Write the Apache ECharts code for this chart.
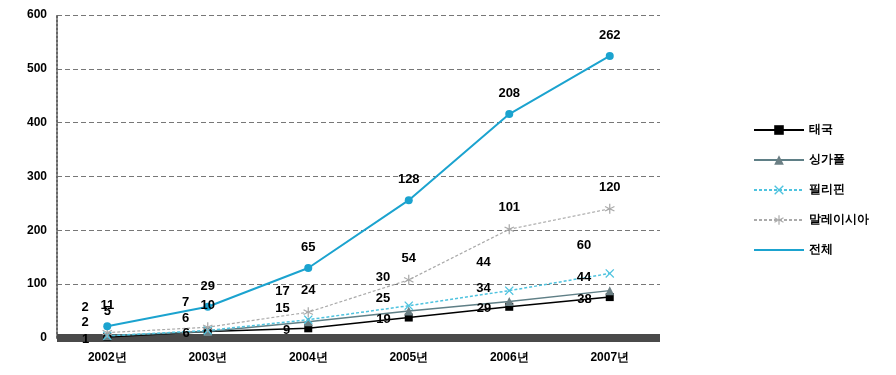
<!DOCTYPE html>
<html>
<head>
<meta charset="utf-8">
<script src="https://cdn.jsdelivr.net/npm/echarts@6/dist/echarts.min.js"></script>
<style>html,body{margin:0;padding:0;background:#fff}#c{width:896px;height:375px}</style>
</head>
<body>
<div id="c"></div>
<script>
const categories = ['2002년', '2003년', '2004년', '2005년', '2006년', '2007년'];
const thailand = [1, 6, 9, 19, 29, 38];
const singapore = [2, 6, 15, 25, 34, 44];
const philippines = [2, 7, 17, 30, 44, 60];
const malaysia = [5, 10, 24, 54, 101, 120];
const total = [11, 29, 65, 128, 208, 262];
const yTickLabels = ['0', '100', '200', '300', '400', '500', '600'];

const font = '"Liberation Sans", Arial, sans-serif';
const chart = echarts.init(document.getElementById('c'));
const X = 'path://M0,1L1,0L5,4L9,0L10,1L6,5L10,9L9,10L5,6L1,10L0,9L4,5Z';
const STAR = 'path://M4.4,0H5.6V4.1L9.2,2.2L9.8,3.2L6.2,5L9.8,6.8L9.2,7.8L5.6,5.9V10H4.4V5.9L0.8,7.8L0.2,6.8L3.8,5L0.2,3.2L0.8,2.2L4.4,4.1Z';
const lbl = (pos, dist, dy) => ({show: true, position: pos, distance: dist, offset: [0, dy || 0], color: '#000', fontWeight: 'bold', fontSize: 13, fontFamily: font});

chart.setOption({
  animation: false,
  grid: {left: 57, right: 236, top: 15, bottom: 37},
  legend: {
    orient: 'vertical', left: 748, top: 119, itemWidth: 50, itemHeight: 12, itemGap: 18,
    textStyle: {fontSize: 12, fontWeight: 'bold', color: '#000', fontFamily: font},
    data: [{name: '태국'}, {name: '싱가폴'}, {name: '필리핀'}, {name: '말레이시아'}, {name: '전체', itemStyle: {opacity: 0}}]
  },
  xAxis: {
    type: 'category', data: categories, offset: 4,
    axisLine: {lineStyle: {color: '#4a4a4a', width: 8, cap: 'butt'}},
    axisTick: {show: false},
    axisLabel: {color: '#000', fontWeight: 'bold', fontSize: 12, fontFamily: font, margin: 10}
  },
  yAxis: {
    type: 'value', min: 0, max: 300, interval: 50,
    axisLine: {show: true, lineStyle: {color: '#666', type: 'dotted', width: 2}},
    axisTick: {show: false},
    splitLine: {lineStyle: {color: '#777', type: [5, 3], width: 1}},
    axisLabel: {color: '#000', fontWeight: 'bold', fontSize: 12, fontFamily: font, margin: 10,
      formatter: v => yTickLabels[Math.round(v / 50)]}
  },
  series: [
    {name: '태국', type: 'line', data: thailand, symbol: 'rect', symbolSize: 8,
     lineStyle: {color: '#000', width: 1.5}, itemStyle: {color: '#000'}, label: lbl('left', 14, 2)},
    {name: '싱가폴', type: 'line', data: singapore, symbol: 'triangle', symbolSize: 9,
     lineStyle: {color: '#5f7f86', width: 1.5}, itemStyle: {color: '#6b7f84'}, label: lbl('left', 14, -13)},
    {name: '필리핀', type: 'line', data: philippines, symbol: X, symbolSize: 9,
     lineStyle: {color: '#4fc3df', width: 1.5, type: [3, 2]}, itemStyle: {color: '#4fc3df'}, label: lbl('left', 14, -28)},
    {name: '말레이시아', type: 'line', data: malaysia, symbol: STAR, symbolSize: 10,
     lineStyle: {color: '#aaaaaa', width: 1.2, type: [3, 2]}, itemStyle: {color: '#aaaaaa'}, label: lbl('top', 10)},
    {name: '전체', type: 'line', data: total, symbol: 'circle', symbolSize: 8, showSymbol: true,
     lineStyle: {color: '#1ba3cf', width: 2}, itemStyle: {color: '#1ba3cf'}, label: lbl('top', 10)}
  ]
});
</script>
</body>
</html>
